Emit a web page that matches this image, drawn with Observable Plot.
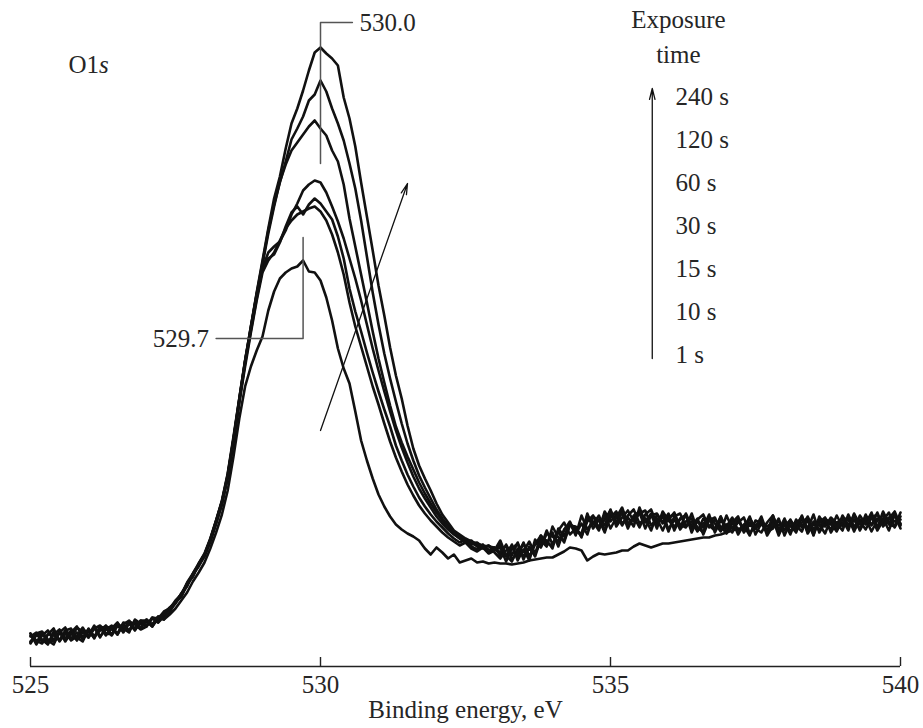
<!DOCTYPE html>
<html>
<head>
<meta charset="utf-8">
<script src="https://cdn.jsdelivr.net/npm/d3@7"></script>
<script src="https://cdn.jsdelivr.net/npm/@observablehq/plot@0.6"></script>
<style>
  html, body { margin: 0; padding: 0; background: #fff; }
  #chart svg { display: block; }
</style>
</head>
<body>
<div id="chart"></div>
<script>
// ---- Data (O1s XPS spectra, intensity in arbitrary units, 525.0–540.0 eV, 0.1 eV step) ----
const energyStart = 525.0;
const energyStep = 0.1;
const exposures = ["1 s", "10 s", "15 s", "30 s", "60 s", "120 s", "240 s"];
const xTicks = [525, 530, 535, 540];

const s1 = [
31,24,33,26,22,34,28,36,29,25,
37,30,39,31,38,33,43,36,45,38,
47,41,49,47,52,58,66,74,85,94,
104,118,134,152,176,210,248,280,300,316,
330,356,375,388,394,398,400,406,395,394,
386,369,346,318,298,283,255,226,206,188,
172,160,150,142,137,133,130,126,118,112,
119,114,108,112,104,106,108,104,105,103,
104,103,103,102,103,104,106,107,108,109,
109,112,115,119,118,116,106,110,113,112,
113,114,116,116,120,123,121,119,121,123,
123,124,125,126,127,128,129,129,131,132,
134,136,138,137,141,139,142,140,144,141,
143,140,144,142,139,143,141,145,142,140,
144,141,146,143,147,142,148,144,149,145,
147];

const s10 = [
33,22,31,36,26,35,25,34,40,29,
37,28,40,38,32,43,38,34,47,43,
40,49,44,53,59,64,73,80,93,102,
111,125,143,162,189,224,264,300,334,366,
394,406,414,426,438,446,452,455,458,460,
455,446,432,414,392,364,340,320,300,280,
262,243,225,209,195,182,171,161,153,146,
140,134,129,125,121,124,118,115,119,113,
116,122,110,122,106,117,106,127,120,136,
122,135,124,142,138,131,153,138,147,134,
152,144,157,142,150,139,152,157,142,153,
137,147,138,153,140,148,132,146,149,136,
142,134,146,138,150,132,143,136,147,131,
145,141,134,149,138,152,134,144,137,151,
140,149,135,147,143,154,138,148,136,152,
142];

const s15 = [
23,32,27,22,35,26,35,26,30,39,
29,39,29,40,38,32,44,43,36,46,
46,40,50,48,56,65,70,83,90,103,
112,127,146,166,193,230,268,306,340,372,
396,408,412,424,440,454,460,452,462,468,
463,455,447,430,408,378,355,335,314,294,
275,257,240,221,206,192,180,169,160,152,
145,139,133,128,124,127,120,117,122,114,
119,111,122,111,124,107,120,110,128,126,
118,138,130,144,131,151,137,145,136,155,
145,152,141,151,157,143,148,136,152,144,
153,136,148,151,137,145,139,152,134,146,
140,149,136,141,131,146,143,134,151,137,
144,132,147,139,146,131,150,141,146,136,
144,139,152,136,147,150,139,155,143,152,
143];

const s30 = [
25,31,34,23,32,37,27,33,26,36,
35,29,40,33,32,41,35,45,42,37,
40,48,44,50,55,64,70,81,92,101,
110,125,143,162,189,225,265,303,336,368,
398,414,420,425,436,452,463,476,482,486,
484,474,460,445,428,408,388,366,342,318,
296,275,255,236,219,204,190,178,168,159,
150,143,137,132,128,125,122,124,119,121,
117,119,105,118,123,110,118,112,131,122,
134,120,137,143,135,133,151,142,151,136,
149,155,143,149,140,159,144,153,144,150,
135,150,153,140,145,135,148,141,136,150,
134,144,150,134,144,138,148,131,141,145,
136,147,137,151,133,143,136,148,143,135,
151,141,147,137,152,141,154,140,147,151,
138];

const s60 = [
33,26,23,32,32,26,36,38,27,34,
31,41,30,37,41,32,42,46,37,43,
45,40,48,53,55,65,71,83,92,100,
111,126,145,165,190,227,266,305,338,371,
402,433,460,485,502,516,524,532,540,546,
538,531,516,505,482,448,420,392,364,335,
308,284,261,240,224,210,197,184,173,163,
154,146,139,133,128,124,126,120,118,121,
114,108,116,120,109,124,110,122,131,123,
121,136,144,132,138,130,145,151,138,147,
156,143,154,138,151,155,145,152,138,155,
146,140,147,152,134,147,152,139,147,140,
133,143,147,135,149,138,134,144,151,133,
141,146,136,144,149,132,146,140,149,143,
136,152,140,145,137,149,152,141,148,155,
141];

const s120 = [
24,33,35,27,25,34,39,27,34,27,
38,30,36,41,31,41,40,35,46,38,
47,42,50,47,57,63,73,82,90,102,
112,127,145,164,191,227,267,305,339,373,
404,436,462,484,505,527,538,550,566,572,
586,575,558,543,526,503,478,446,410,374,
342,313,288,265,243,223,206,191,179,168,
157,148,141,135,130,126,123,121,119,117,
116,126,111,105,118,115,125,113,126,120,
140,129,126,141,140,129,149,144,140,152,
138,149,159,143,147,154,138,151,153,143,
147,154,137,145,148,139,134,150,143,135,
151,138,144,149,133,141,146,135,138,148,
131,144,141,135,150,137,144,149,134,144,
147,136,153,142,148,135,146,151,142,140,
154];

const s240 = [
30,34,25,32,38,25,33,27,39,35,
29,38,41,32,38,44,34,43,38,46,
41,49,48,55,58,66,72,84,93,103,
113,128,146,165,192,228,268,306,340,374,
406,438,468,490,518,543,558,576,596,614,
619,613,608,601,569,548,520,484,450,416,
381,351,319,291,268,241,218,201,188,176,
163,152,144,136,132,128,125,123,121,120,
119,114,121,107,114,123,108,124,119,133,
130,125,136,145,132,143,132,150,146,141,
157,140,149,156,145,153,156,141,148,136,
149,152,142,139,153,136,143,148,137,150,
138,146,132,142,147,139,150,134,143,136,
148,135,142,150,134,145,142,133,148,139,
149,146,138,151,142,150,136,146,154,139,
150];

// Peak annotations (binding energies) and their leader lines
const peakMain = 530.0;
const peakLow = 529.7;
const leaderMain = [
  {energy: peakMain, intensity: 503},
  {energy: peakMain, intensity: 644},
  {energy: 530.55, intensity: 644}
];
const leaderLow = [
  {energy: peakLow, intensity: 429},
  {energy: peakLow, intensity: 328},
  {energy: 528.2, intensity: 328}
];
// Trend arrow across the spectra, and exposure-time arrow
const trendArrow = [{x1: 530.0, y1: 236, x2: 531.5, y2: 483}];
const timeArrow = [{x1: 535.72, y1: 308, x2: 535.72, y2: 578}];

// ---- Build table ----
const series = [s1, s10, s15, s30, s60, s120, s240];
const rows = series.flatMap((vals, k) =>
  vals.map((v, i) => ({
    energy: +(energyStart + i * energyStep).toFixed(1),
    intensity: v,
    exposure: exposures[k]
  }))
);

const font = "'Liberation Serif', 'Times New Roman', Times, serif";
const ink = "#262626";

const chart = Plot.plot({
  width: 923,
  height: 728,
  marginLeft: 30,
  marginRight: 23,
  marginTop: 0,
  marginBottom: 62,
  style: {fontFamily: font, background: "#fff", color: ink, fontSize: "25px"},
  x: {domain: [525, 540]},
  y: {domain: [0, 666], axis: null},
  marks: [
    Plot.ruleY([0], {stroke: "#222", strokeWidth: 1.4}),
    Plot.ruleX(xTicks, {y1: 0, y2: 9, stroke: "#222", strokeWidth: 1.4}),
    Plot.axisX({ticks: xTicks, tickSize: 0, tickPadding: 9, fontSize: 25, label: null,
                tickFormat: d3.format("d"), fill: ink}),
    Plot.text(["Binding energy, eV"], {frameAnchor: "bottom", dy: 51, fontSize: 25, fill: ink}),

    Plot.line(rows, {x: "energy", y: "intensity", z: "exposure", stroke: "#111",
                     strokeWidth: 2.6, strokeLinejoin: "round", strokeLinecap: "round"}),

    Plot.line(leaderMain, {x: "energy", y: "intensity", stroke: "#555", strokeWidth: 1.5}),
    Plot.line(leaderLow, {x: "energy", y: "intensity", stroke: "#555", strokeWidth: 1.5}),
    Plot.text([peakMain.toFixed(1)], {x: leaderMain[2].energy, y: leaderMain[2].intensity,
              textAnchor: "start", dx: 7, fontSize: 25, fill: ink}),
    Plot.text([peakLow.toFixed(1)], {x: leaderLow[2].energy, y: leaderLow[2].intensity,
              textAnchor: "end", dx: -7, fontSize: 25, fill: ink}),

    Plot.arrow(trendArrow, {x1: "x1", y1: "y1", x2: "x2", y2: "y2", stroke: "#111",
               strokeWidth: 1.3, headLength: 13, headAngle: 28}),
    Plot.arrow(timeArrow, {x1: "x1", y1: "y1", x2: "x2", y2: "y2", stroke: "#111",
               strokeWidth: 1.3, headLength: 13, headAngle: 28}),

    Plot.text(["Exposure\ntime"], {x: 536.17, y: 663, lineAnchor: "top", lineHeight: 1.4,
              textAnchor: "middle", fontSize: 25, fill: ink}),
    Plot.text([exposures.slice().reverse().join("\n")], {x: 536.12, y: 592, lineAnchor: "top",
              lineHeight: 1.72, textAnchor: "start", fontSize: 25, fill: ink}),

    Plot.text(["O1"], {x: 525.655, y: 611, lineAnchor: "top", textAnchor: "start", fontSize: 25, fill: ink}),
    Plot.text(["s"], {x: 525.655, y: 611, dx: 30.6, lineAnchor: "top", textAnchor: "start",
              fontSize: 25, fontStyle: "italic", fill: ink})
  ]
});

document.getElementById("chart").appendChild(chart);
</script>
</body>
</html>
